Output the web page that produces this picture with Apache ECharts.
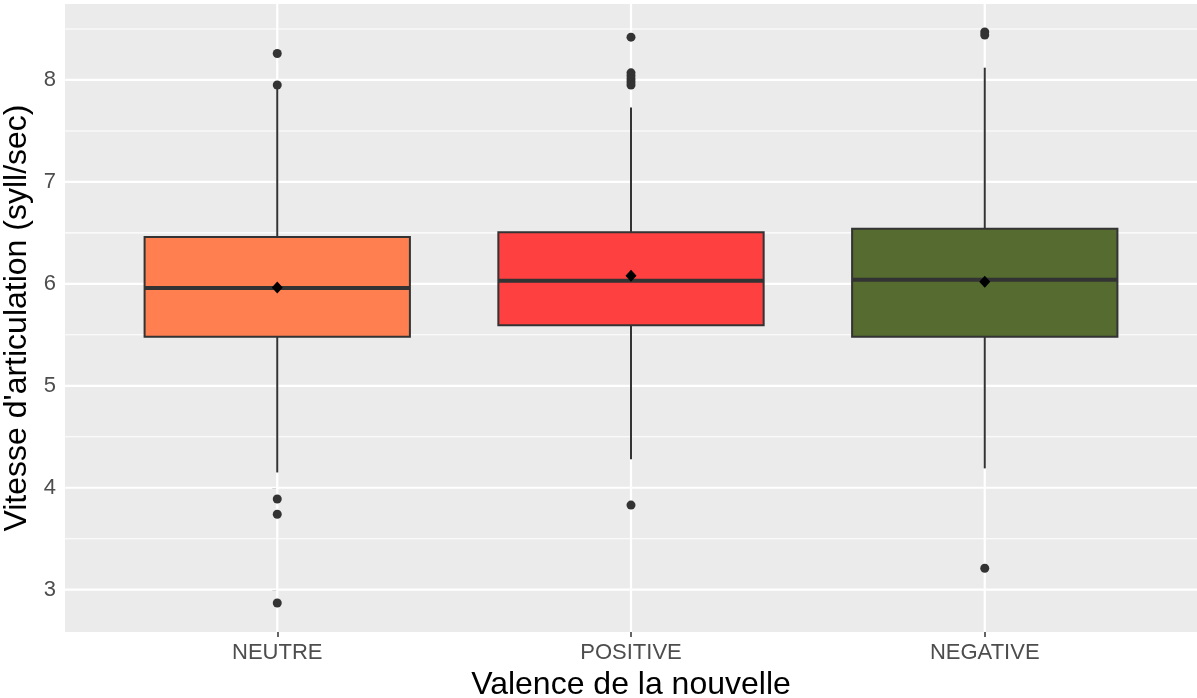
<!DOCTYPE html>
<html>
<head>
<meta charset="utf-8">
<script src="https://cdn.jsdelivr.net/npm/echarts@6/dist/echarts.min.js"></script>
<style>
  html, body { margin: 0; padding: 0; background: #ffffff; }
  #chart { width: 1197px; height: 698px; }
</style>
</head>
<body>
<div id="chart"></div>
<script>
// ---- data ----
const categories = ['NEUTRE', 'POSITIVE', 'NEGATIVE'];
const boxColors = ['#FF7F50', '#FF4040', '#556B2F'];
const whiskerLow = [4.15, 4.28, 4.19];
const q1 = [5.48, 5.595, 5.48];
const median = [5.96, 6.03, 6.04];
const q3 = [6.46, 6.505, 6.54];
const whiskerHigh = [7.92, 7.73, 8.12];
const means = [5.965, 6.08, 6.02];
const outliersNeutre = [8.26, 7.95, 3.89, 3.74, 2.87];
const outliersPositive = [8.42, 8.07, 8.04, 8.01, 7.98, 7.95, 3.83];
const outliersNegative = [8.47, 8.44, 3.21];
const yTicks = [3, 4, 5, 6, 7, 8];
const yMinorLines = [3.5, 4.5, 5.5, 6.5, 7.5, 8.5];
const xTicks = [0, 1, 2];

// ---- build series data ----
const boxData = categories.map((c, i) => [i, whiskerLow[i], q1[i], median[i], q3[i], whiskerHigh[i]]);
const outlierData = [];
[outliersNeutre, outliersPositive, outliersNegative].forEach((arr, i) => arr.forEach(v => outlierData.push([i, v])));
const meanData = means.map((m, i) => [i, m]);

const FONT = 'Liberation Sans, Arial, sans-serif';

function hLineRender(width) {
  return function (params, api) {
    const cs = params.coordSys;
    const p = api.coord([0, api.value(1)]);
    return {
      type: 'line',
      shape: { x1: cs.x, y1: p[1], x2: cs.x + cs.width, y2: p[1] },
      style: { stroke: '#ffffff', lineWidth: width },
      silent: true
    };
  };
}
function vLineRender(width) {
  return function (params, api) {
    const cs = params.coordSys;
    const p = api.coord([api.value(0), 5]);
    return {
      type: 'line',
      shape: { x1: p[0], y1: cs.y, x2: p[0], y2: cs.y + cs.height },
      style: { stroke: '#ffffff', lineWidth: width },
      silent: true
    };
  };
}

const chart = echarts.init(document.getElementById('chart'), null, { renderer: 'canvas' });
chart.setOption({
  animation: false,
  backgroundColor: '#ffffff',
  grid: {
    left: 65, right: 0, top: 4, bottom: 66,
    outerBoundsMode: 'none',
    containLabel: false,
    show: true, backgroundColor: '#EBEBEB', borderWidth: 0
  },
  xAxis: {
    type: 'value',
    min: -0.6, max: 2.6,
    name: 'Valence de la nouvelle',
    nameLocation: 'middle',
    nameGap: 32,
    nameTextStyle: { fontSize: 32, color: '#000000', fontFamily: FONT },
    axisLine: { show: false },
    splitLine: { show: false },
    axisTick: { show: true, customValues: xTicks, length: 5, lineStyle: { color: '#333333', width: 1.5 } },
    axisLabel: {
      customValues: xTicks, margin: 10,
      formatter: v => categories[Math.round(v)],
      fontSize: 22, color: '#4D4D4D', fontFamily: FONT
    }
  },
  yAxis: {
    type: 'value',
    min: 2.585, max: 8.745,
    name: "Vitesse d'articulation (syll/sec)",
    nameLocation: 'middle',
    nameGap: 25,
    nameTextStyle: { fontSize: 32, color: '#000000', fontFamily: FONT },
    axisLine: { show: false },
    splitLine: { show: false },
    axisTick: { show: true, customValues: yTicks, length: 5, lineStyle: { color: '#333333', width: 1.5 } },
    axisLabel: {
      customValues: yTicks, margin: 9,
      fontSize: 22, color: '#4D4D4D', fontFamily: FONT
    }
  },
  series: [
    {
      type: 'custom', name: 'minorY', z: 1, silent: true,
      encode: { x: 0, y: 1 },
      data: yMinorLines.map(v => [0, v]),
      renderItem: hLineRender(1.1)
    },
    {
      type: 'custom', name: 'majorY', z: 1, silent: true,
      encode: { x: 0, y: 1 },
      data: yTicks.map(v => [0, v]),
      renderItem: hLineRender(2.2)
    },
    {
      type: 'custom', name: 'majorX', z: 1, silent: true,
      encode: { x: 0, y: 1 },
      data: xTicks.map(v => [v, 5]),
      renderItem: vLineRender(2.2)
    },
    {
      type: 'custom', name: 'boxes', z: 2,
      encode: { x: 0, y: [1, 2, 3, 4, 5] },
      data: boxData,
      renderItem: function (params, api) {
        const i = api.value(0);
        const half = 0.375;
        const lo = api.coord([i, api.value(1)]);
        const b1 = api.coord([i, api.value(2)]);
        const md = api.coord([i, api.value(3)]);
        const b3 = api.coord([i, api.value(4)]);
        const hi = api.coord([i, api.value(5)]);
        const left = api.coord([i - half, api.value(3)])[0];
        const right = api.coord([i + half, api.value(3)])[0];
        const lineCol = '#333333';
        return {
          type: 'group',
          children: [
            { type: 'line', shape: { x1: lo[0], y1: lo[1], x2: b1[0], y2: b1[1] }, style: { stroke: lineCol, lineWidth: 2 } },
            { type: 'line', shape: { x1: b3[0], y1: b3[1], x2: hi[0], y2: hi[1] }, style: { stroke: lineCol, lineWidth: 2 } },
            { type: 'rect', shape: { x: left, y: b3[1], width: right - left, height: b1[1] - b3[1] },
              style: { fill: boxColors[i], stroke: lineCol, lineWidth: 2 } },
            { type: 'line', shape: { x1: left, y1: md[1], x2: right, y2: md[1] }, style: { stroke: lineCol, lineWidth: 4 } }
          ]
        };
      }
    },
    {
      type: 'scatter', name: 'outliers', z: 3,
      data: outlierData,
      symbol: 'circle', symbolSize: 9,
      itemStyle: { color: '#333333', opacity: 1 },
      silent: true
    },
    {
      type: 'scatter', name: 'mean', z: 4,
      data: meanData,
      symbol: 'diamond', symbolSize: [11, 12],
      itemStyle: { color: '#000000', opacity: 1 },
      silent: true
    }
  ]
});
</script>
</body>
</html>
